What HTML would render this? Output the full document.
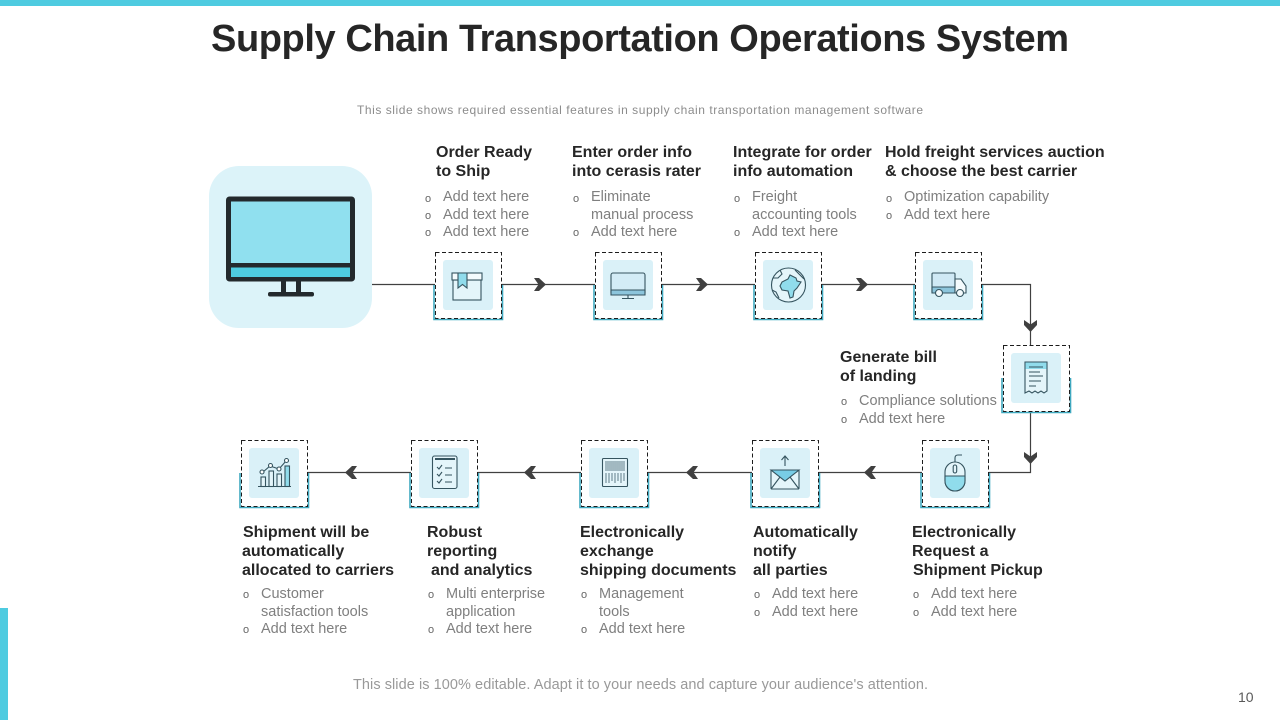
<!DOCTYPE html>
<html><head><meta charset="utf-8"><style>
html,body{margin:0;padding:0;background:#fff}
svg{display:block}
text{font-family:"Liberation Sans",sans-serif}
.h{font-size:16px;font-weight:bold;fill:#262626}
.b{font-size:14.5px;fill:#7f7f7f}
.o{font-size:11px;fill:#666}
.i{fill:none;stroke:#35545f;stroke-width:1.1}
.ch{fill:#404040}
</style></head><body>
<svg width="1280" height="720" viewBox="0 0 1280 720" xmlns="http://www.w3.org/2000/svg">
<defs>
<g id="box">
<path d="M-1 33V67.500H67.500V33" fill="none" stroke="#3fa9c0" stroke-width="1.600"/>
<rect x="0.500" y="0.500" width="66" height="66" fill="#fff" stroke="#1c1c1c" stroke-width="1" stroke-dasharray="4 2.500"/>
<rect x="8" y="8" width="50" height="50" rx="3" fill="#daf1f8"/>
</g>
<path id="chev" d="M-6 -6.500H-1L6 0L-1 6.500H-6L-1.500 0Z"/>
</defs>
<rect x="0" y="0" width="1280" height="6" fill="#4ecbe0"/>
<rect x="0" y="608" width="8" height="112" fill="#4ecbe0"/>
<text x="211" y="51" font-size="38" font-weight="bold" fill="#262626" textLength="858" lengthAdjust="spacing">Supply Chain Transportation Operations System</text>
<text x="357" y="114" font-size="12" fill="#8c8c8c" textLength="566" lengthAdjust="spacing">This slide shows required essential features in supply chain transportation management software</text>

<!-- connectors -->
<g fill="none" stroke="#404040" stroke-width="1.200">
<path d="M372 284.500H435M501 284.500H595M661 284.500H755M821 284.500H915M981 284.500H1030.500V345M1030.500 411V472.500H988M922 472.500H818M752 472.500H647M581 472.500H477M411 472.500H307"/>
</g>
<g class="ch">
<use href="#chev" x="540" y="284.500"/><use href="#chev" x="702" y="284.500"/><use href="#chev" x="862" y="284.500"/>
<use href="#chev" transform="translate(1030.500 326) rotate(90)"/>
<use href="#chev" transform="translate(1030.500 458) rotate(90)"/>
<use href="#chev" transform="translate(870 472.500) rotate(180)"/>
<use href="#chev" transform="translate(692 472.500) rotate(180)"/>
<use href="#chev" transform="translate(530 472.500) rotate(180)"/>
<use href="#chev" transform="translate(351 472.500) rotate(180)"/>
</g>

<!-- big monitor -->
<rect x="209" y="166" width="163" height="162" rx="30" fill="#dcf3f9"/>
<rect x="228.500" y="199" width="124" height="80" rx="1" fill="#90e0ef" stroke="#23292d" stroke-width="5"/>
<rect x="231" y="266" width="119" height="11" fill="#4ecbe0"/>
<rect x="226" y="263" width="129" height="4.500" fill="#23292d"/>
<rect x="281" y="280" width="5" height="13" fill="#23292d"/>
<rect x="296" y="280" width="5" height="13" fill="#23292d"/>
<rect x="268" y="292" width="46" height="4.500" rx="2" fill="#23292d"/>

<!-- boxes -->
<use href="#box" x="435" y="252"/><use href="#box" x="595" y="252"/><use href="#box" x="755" y="252"/><use href="#box" x="915" y="252"/>
<use href="#box" x="1003" y="345"/><use href="#box" x="922" y="440"/><use href="#box" x="752" y="440"/><use href="#box" x="581" y="440"/><use href="#box" x="411" y="440"/><use href="#box" x="241" y="440"/>

<!-- package -->
<g class="i">
<rect x="453" y="280" width="28" height="20" fill="#e4f5fa"/>
<rect x="452" y="273" width="30" height="7" fill="#f4fbfd"/>
<path d="M458 273H467V288L462.500 284.500L458 288Z" fill="#90dcec"/>
</g>
<!-- monitor -->
<g class="i">
<rect x="611" y="273" width="34" height="22" rx="2" fill="#d3ecf6"/>
<path d="M611 290H645V295H611Z" fill="#8cc5dc"/>
<path d="M628 295V298M622 298.500H634"/>
</g>
<!-- globe -->
<g class="i">
<circle cx="788.500" cy="285" r="17" fill="#e4f5fa"/>
<path d="M782 282L788 279L790 275L796 278L797 281L801 282L797 288L794 291L793 297L790 298L788 291L782 290L780 286Z" fill="#90dcec"/>
<path d="M773 278L778 278L782 274L780 270M795 270L799 274L804 279M772 290L776 292L779 298"/>
</g>
<!-- truck -->
<g class="i">
<rect x="932" y="273" width="23" height="20" rx="1" fill="#cfe9f5"/>
<path d="M932 287H955V293H932Z" fill="#8cc5dc"/>
<path d="M955 279H961L966 286V293H955Z" fill="#f4fbfd"/>
<circle cx="939" cy="293" r="3.500" fill="#f4fbfd"/><circle cx="960" cy="293" r="3.500" fill="#f4fbfd"/>
</g>
<!-- receipt -->
<g class="i">
<path d="M1025 362H1047V391L1044 393L1041 391L1038 393L1035 391L1032 393L1029 391L1025 393Z" fill="#e4f5fa"/>
<path d="M1025.500 362.500H1046.500V369H1025.500Z" fill="#90dcec" stroke="none"/>
<path d="M1029 367H1043M1029 372H1040M1029 376H1043M1029 381H1041M1029 386H1036" stroke-width="0.900"/>
</g>
<!-- mouse -->
<g class="i">
<rect x="945" y="462" width="20" height="29" rx="10" fill="#e4f5fa"/>
<path d="M945 476H965V481A10 10 0 0 1 945 481Z" fill="#90dcec"/>
<rect x="953.200" y="465" width="3.500" height="8" rx="1.700"/>
<path d="M955 462V458Q955 455 958 455H962"/>
</g>
<!-- envelope -->
<g class="i">
<rect x="771" y="470" width="28" height="19" rx="1" fill="#e4f5fa"/>
<path d="M771 470H799L785 481Z" fill="#78cde6"/>
<path d="M771 489L780 477M799 489L790 477M785 466V456M781.500 460L785 456L788.500 460"/>
</g>
<!-- barcode -->
<g class="i">
<rect x="602.500" y="458.500" width="25" height="28" rx="1" fill="#e4f5fa"/>
<path d="M606 461V471M608 461V471M610 461V471M612 461V471M614 461V471M616 461V471M618 461V471M620 461V471M622 461V471M624 461V471M606 473V483M609 473V483M612 473V481M615 473V483M618 473V481M621 473V483M624 473V481" stroke="#50707c" stroke-width="0.900"/>
</g>
<!-- clipboard -->
<g class="i">
<rect x="432.500" y="456" width="24.500" height="32.500" rx="2" fill="#e4f5fa"/>
<path d="M435 459H455" stroke-width="2"/>
<path d="M437 467L439 469L442 465M437 474L439 476L442 472M437 481L439 483L442 479M445 468H452M445 475H452M445 482H452"/>
</g>
<!-- chart -->
<g class="i">
<path d="M258 486.500H291"/>
<rect x="261" y="477" width="4.500" height="9.500" fill="#e4f5fa"/>
<rect x="269" y="471" width="4.500" height="15.500" fill="#e4f5fa"/>
<rect x="277" y="474" width="4.500" height="12.500" fill="#e4f5fa"/>
<rect x="285" y="466" width="4.500" height="20.500" fill="#90dcec"/>
<path d="M263 472L270 466L279 469L286 461"/>
<circle cx="262" cy="472" r="2" fill="#fff"/><circle cx="270.500" cy="465.500" r="2" fill="#fff"/><circle cx="279" cy="469" r="2" fill="#fff"/><circle cx="286.500" cy="460.500" r="2" fill="#fff"/>
</g>

<!-- top labels -->
<text class="h" x="436" y="157">Order Ready</text><text class="h" x="436" y="176">to Ship</text>
<text class="o" x="425" y="202">o</text><text class="b" x="443" y="201">Add text here</text>
<text class="o" x="425" y="219">o</text><text class="b" x="443" y="219">Add text here</text>
<text class="o" x="425" y="236">o</text><text class="b" x="443" y="236">Add text here</text>

<text class="h" x="572" y="157">Enter order info</text><text class="h" x="572" y="176">into cerasis rater</text>
<text class="o" x="573" y="202">o</text><text class="b" x="591" y="201">Eliminate</text>
<text class="b" x="591" y="219">manual process</text>
<text class="o" x="573" y="236">o</text><text class="b" x="591" y="236">Add text here</text>

<text class="h" x="733" y="157">Integrate for order</text><text class="h" x="733" y="176">info automation</text>
<text class="o" x="734" y="202">o</text><text class="b" x="752" y="201">Freight</text>
<text class="b" x="752" y="219">accounting tools</text>
<text class="o" x="734" y="236">o</text><text class="b" x="752" y="236">Add text here</text>

<text class="h" x="885" y="157">Hold freight services auction</text><text class="h" x="885" y="176">&amp; choose the best carrier</text>
<text class="o" x="886" y="202">o</text><text class="b" x="904" y="201">Optimization capability</text>
<text class="o" x="886" y="219">o</text><text class="b" x="904" y="219">Add text here</text>

<text class="h" x="840" y="362">Generate bill</text><text class="h" x="840" y="381">of landing</text>
<text class="o" x="841" y="405">o</text><text class="b" x="859" y="405">Compliance solutions</text>
<text class="o" x="841" y="423">o</text><text class="b" x="859" y="423">Add text here</text>

<!-- bottom labels -->
<text class="h" x="243" y="537">Shipment will be</text><text class="h" x="242" y="556">automatically</text><text class="h" x="242" y="575">allocated to carriers</text>
<text class="o" x="243" y="598">o</text><text class="b" x="261" y="598">Customer</text>
<text class="b" x="261" y="616">satisfaction tools</text>
<text class="o" x="243" y="633">o</text><text class="b" x="261" y="633">Add text here</text>

<text class="h" x="427" y="537">Robust</text><text class="h" x="427" y="556">reporting</text><text class="h" x="431" y="575">and analytics</text>
<text class="o" x="428" y="598">o</text><text class="b" x="446" y="598">Multi enterprise</text>
<text class="b" x="446" y="616">application</text>
<text class="o" x="428" y="633">o</text><text class="b" x="446" y="633">Add text here</text>

<text class="h" x="580" y="537">Electronically</text><text class="h" x="580" y="556">exchange</text><text class="h" x="580" y="575">shipping documents</text>
<text class="o" x="581" y="598">o</text><text class="b" x="599" y="598">Management</text>
<text class="b" x="599" y="616">tools</text>
<text class="o" x="581" y="633">o</text><text class="b" x="599" y="633">Add text here</text>

<text class="h" x="753" y="537">Automatically</text><text class="h" x="753" y="556">notify</text><text class="h" x="753" y="575">all parties</text>
<text class="o" x="754" y="598">o</text><text class="b" x="772" y="598">Add text here</text>
<text class="o" x="754" y="616">o</text><text class="b" x="772" y="616">Add text here</text>

<text class="h" x="912" y="537">Electronically</text><text class="h" x="912" y="556">Request a</text><text class="h" x="913" y="575">Shipment Pickup</text>
<text class="o" x="913" y="598">o</text><text class="b" x="931" y="598">Add text here</text>
<text class="o" x="913" y="616">o</text><text class="b" x="931" y="616">Add text here</text>

<text x="353" y="689" font-size="14.500" fill="#999" textLength="575">This slide is 100% editable. Adapt it to your needs and capture your audience's attention.</text>
<text x="1238" y="702" font-size="14" fill="#595959">10</text>
</svg>
</body></html>
